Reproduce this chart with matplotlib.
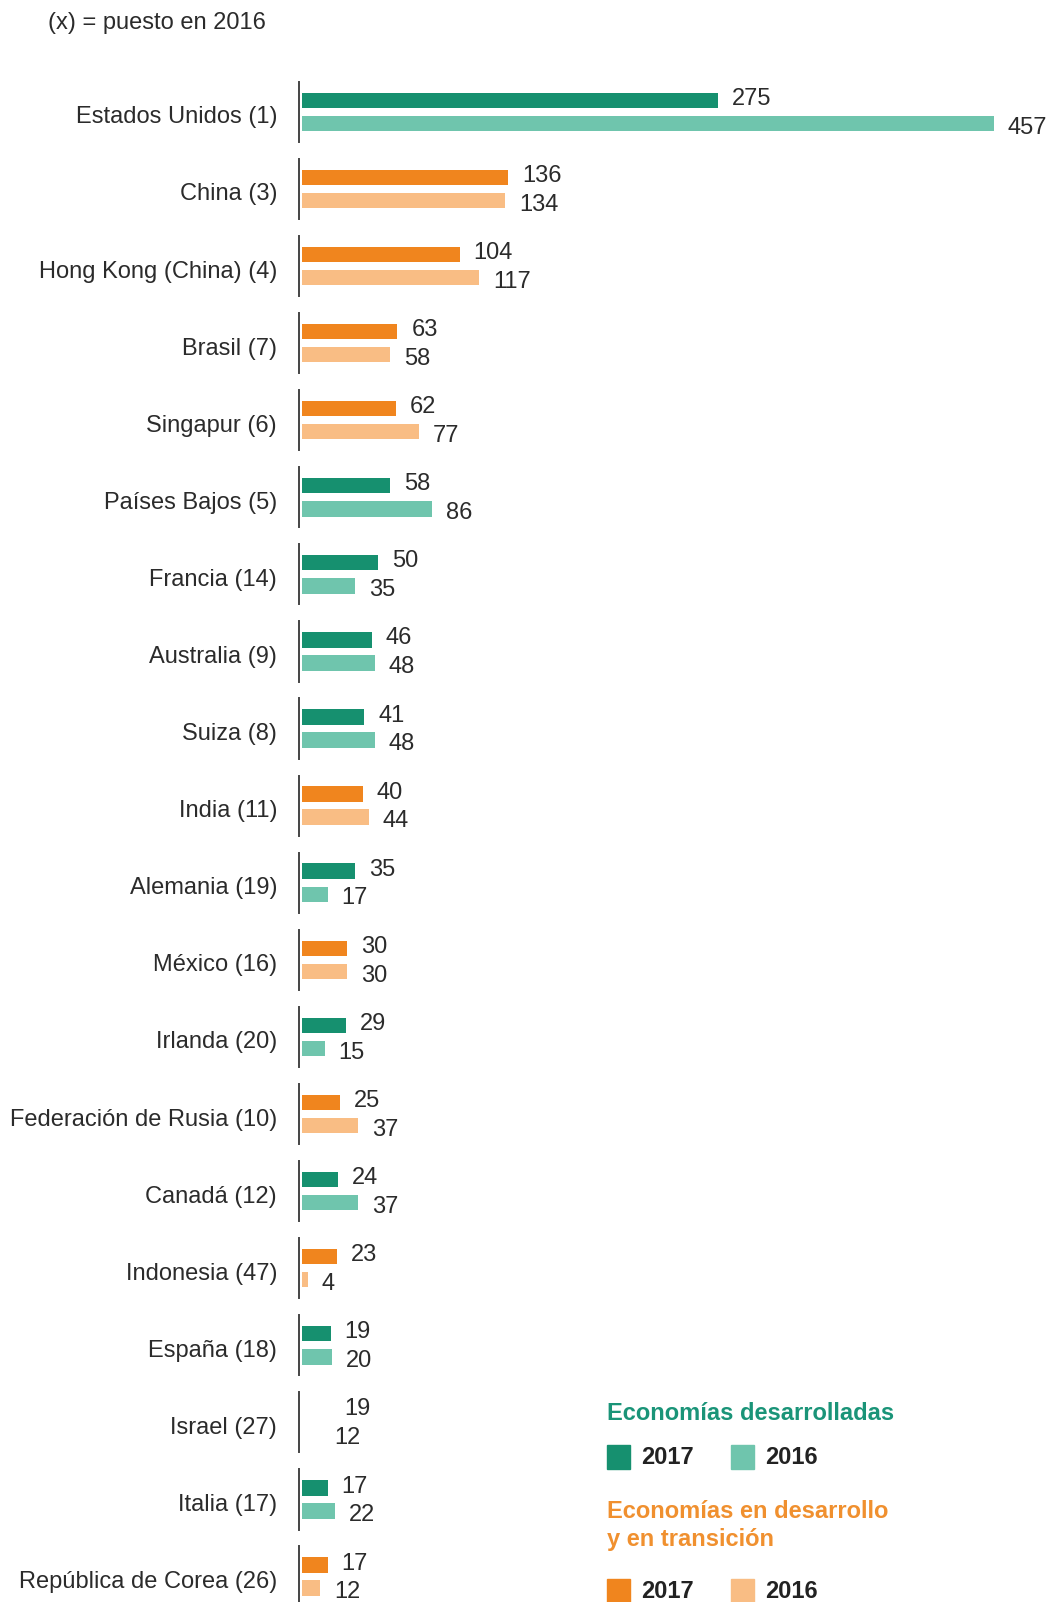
import matplotlib as mpl
mpl.use('Agg')
import matplotlib.pyplot as plt
from matplotlib.patches import Rectangle

plt.rcParams['font.family'] = ['Liberation Sans', 'DejaVu Sans']

countries = ['Estados Unidos (1)', 'China (3)', 'Hong Kong (China) (4)', 'Brasil (7)',
             'Singapur (6)', 'Países Bajos (5)', 'Francia (14)', 'Australia (9)',
             'Suiza (8)', 'India (11)', 'Alemania (19)', 'México (16)', 'Irlanda (20)',
             'Federación de Rusia (10)', 'Canadá (12)', 'Indonesia (47)', 'España (18)',
             'Israel (27)', 'Italia (17)', 'República de Corea (26)']
v2017 = [275, 136, 104, 63, 62, 58, 50, 46, 41, 40, 35, 30, 29, 25, 24, 23, 19, 19, 17, 17]
v2016 = [457, 134, 117, 58, 77, 86, 35, 48, 48, 44, 17, 30, 15, 37, 37, 4, 20, 12, 22, 12]
# d = economía desarrollada, e = en desarrollo / transición
group = ['d', 'e', 'e', 'e', 'e', 'd', 'd', 'd', 'd', 'e', 'd', 'e', 'd', 'e', 'd', 'e', 'd', 'd', 'd', 'e']
hidden = ['Israel (27)']  # bars not drawn in the original

colors = {'d': ('#16906f', '#6fc5ad'), 'e': ('#f0851e', '#f9bd84')}
text_col = {'d': '#1a9478', 'e': '#f0902f'}

fig = plt.figure(figsize=(10.5, 16.02), dpi=100)
ax = fig.add_axes([0, 0, 1, 1])
ax.set_xlim(-199.5, 494)
ax.set_ylim(19.33, -1.45)
ax.axis('off')

bh = 0.2
off = 0.15
for i, c in enumerate(countries):
    c17, c16 = colors[group[i]]
    if c in hidden:
        c17 = c16 = 'white'
    ax.barh(i - off, v2017[i], height=bh, color=c17, left=0)
    ax.barh(i + off, v2016[i], height=bh, color=c16, left=0)
    ax.plot([-2.2, -2.2], [i - 0.39, i + 0.39], color='#444444', lw=1.4)
    ax.annotate(str(v2017[i]), (v2017[i], i - off), xytext=(10, 1), textcoords='offset points',
                ha='left', va='center', fontsize=17, color='#2b2b2b')
    ax.annotate(str(v2016[i]), (v2016[i], i + off), xytext=(10, -3), textcoords='offset points',
                ha='left', va='center', fontsize=17, color='#2b2b2b')
    ax.annotate(c, (0, i), xytext=(-18, -4), textcoords='offset points',
                ha='right', va='center', fontsize=17, color='#2b2b2b')

fig.text(48 / 1050, 1 - 23 / 1602, '(x) = puesto en 2016', ha='left', va='center',
         fontsize=17, color='#2b2b2b')

# legend
def px(x, y):
    return x / 1050, 1 - y / 1602

fig.text(*px(607, 1414), 'Economías desarrolladas', ha='left', va='center', fontsize=17,
         fontweight='bold', color=text_col['d'])
fig.text(*px(607, 1500), 'Economías en desarrollo\ny en transición', ha='left', va='top',
         fontsize=17, fontweight='bold', color=text_col['e'], linespacing=1.3)
for row_y, g in [(1457, 'd'), (1591, 'e')]:
    for k, (x0, lab) in enumerate([(607, '2017'), (731, '2016')]):
        fx, fy = px(x0, row_y + 12)
        fig.patches.append(Rectangle((fx, fy), 23 / 1050, 24 / 1602, transform=fig.transFigure,
                                     color=colors[g][k]))
        fig.text(*px(x0 + 34, row_y), lab, ha='left', va='center', fontsize=17,
                 fontweight='bold', color='#222222')

fig.savefig('out.png', dpi=100)
plt.close()
